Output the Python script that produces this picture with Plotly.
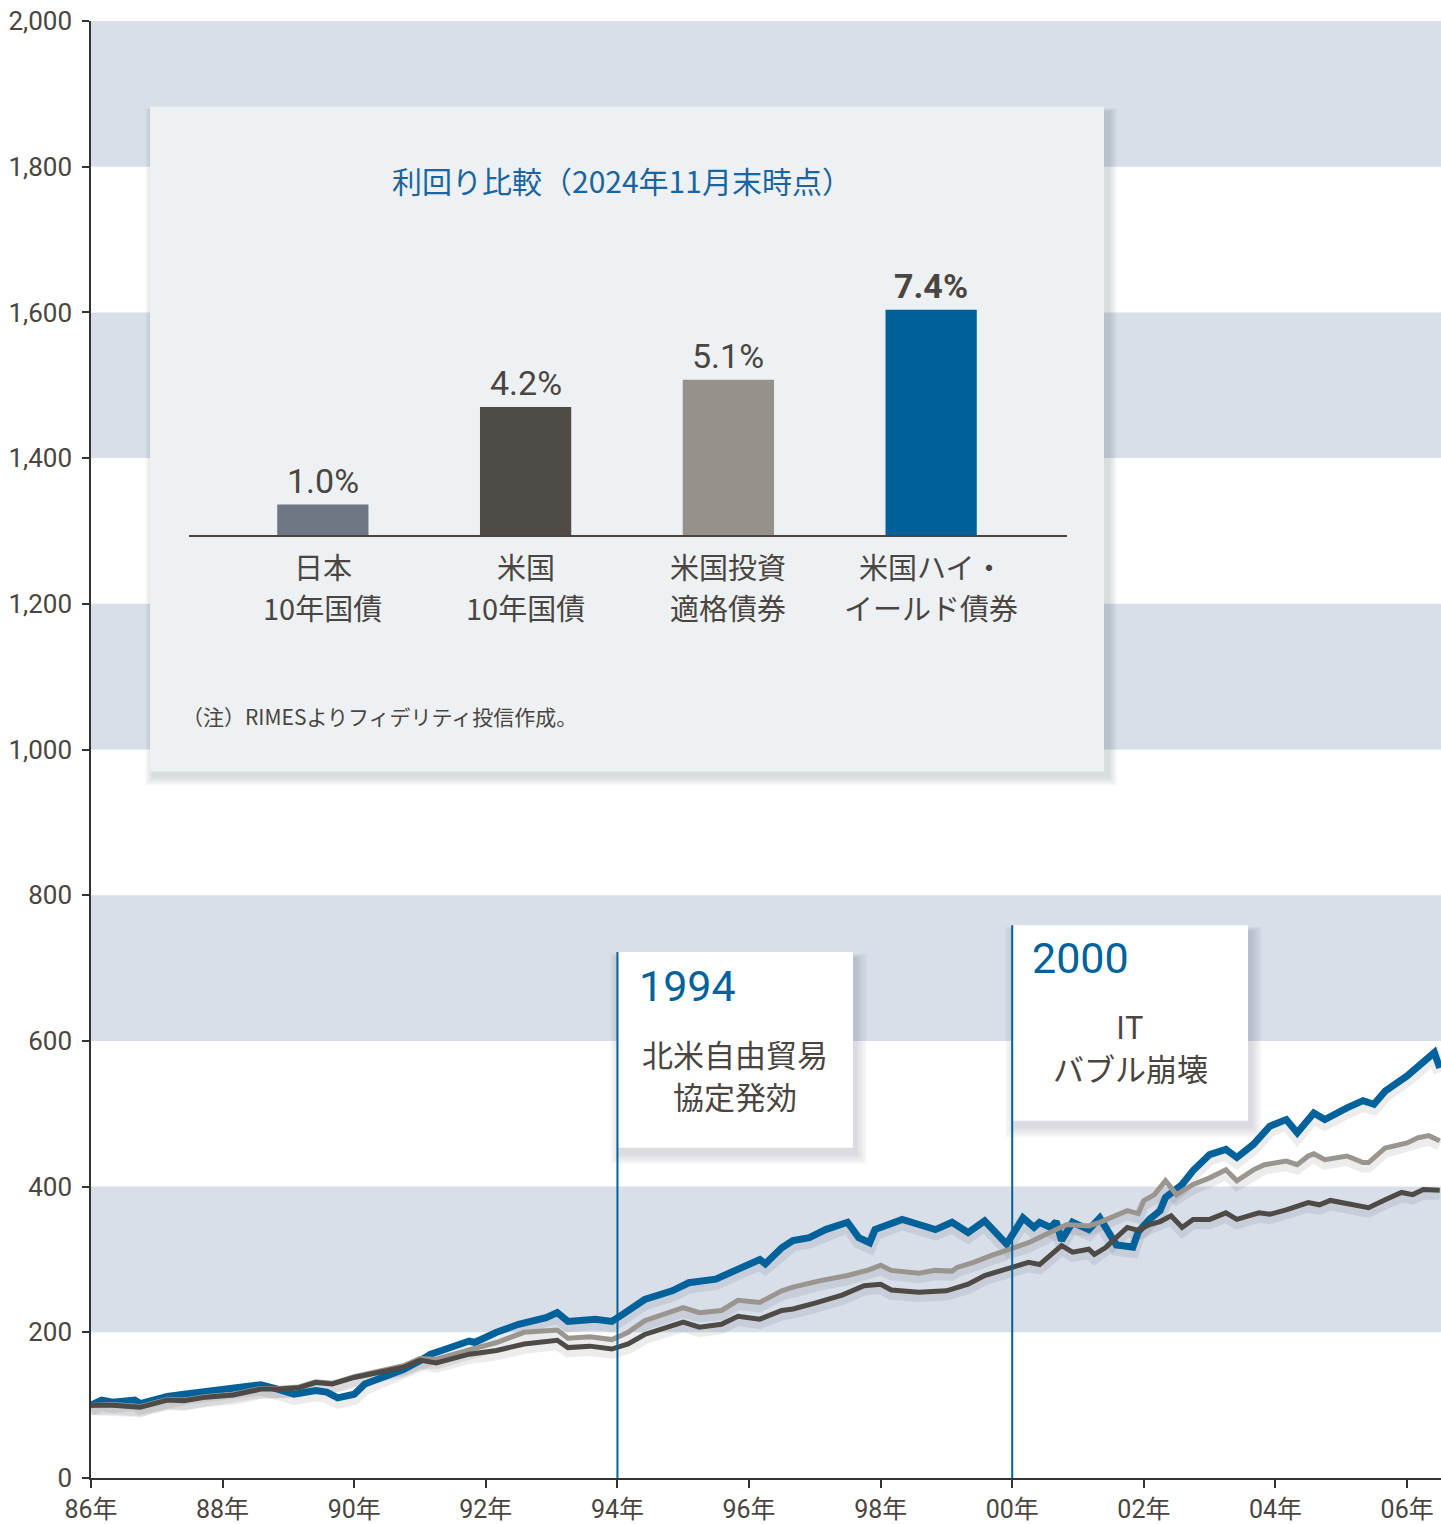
import plotly.graph_objects as go

# ---------------- data ----------------
hy_dates = ["1986-01","1986-03","1986-05","1986-09","1986-10","1987-03","1987-06","1987-09",
            "1988-01","1988-05","1988-08","1988-11","1989-02","1989-06","1989-08","1989-10",
            "1990-01","1990-03","1990-06","1990-10","1991-01","1991-03","1991-05","1991-10","1991-11",
            "1992-03","1992-07","1992-12","1993-02","1993-04","1993-09","1993-12",
            "1994-02","1994-06","1994-11","1995-02","1995-07","1995-11",
            "1996-03","1996-04","1996-07","1996-09","1996-12","1997-03","1997-07","1997-09","1997-11","1997-12",
            "1998-02","1998-05","1998-08","1998-11","1999-02","1999-05","1999-08","1999-12",
            "2000-03","2000-05","2000-06","2000-08","2000-09","2000-10","2000-12",
            "2001-03","2001-05","2001-07","2001-08","2001-11","2001-12",
            "2002-02","2002-04","2002-05","2002-08","2002-10","2003-01","2003-04","2003-06","2003-09","2003-12",
            "2004-03","2004-05","2004-08","2004-10","2005-02","2005-05","2005-07","2005-09",
            "2006-01","2006-04","2006-06","2006-07"]
hy_values = [100,107,104,107,102,112,115,118,
             121,124,128,122,115,120,118,110,
             115,129,138,149,161,170,175,188,186,
             200,211,220,227,215,218,215,
             225,245,257,268,273,286,
             300,294,316,326,330,341,351,330,323,341,
             346,355,348,341,351,337,353,321,
             357,344,351,344,352,326,351,
             341,357,330,320,317,338,
             355,367,385,403,422,444,451,440,458,483,
             492,474,501,492,508,518,513,531,
             552,570,584,563]

ust_dates = ["1986-01","1986-05","1986-10","1987-03","1987-06","1987-10","1988-03","1988-08","1988-11",
             "1989-03","1989-06","1989-09","1990-01","1990-06","1990-10","1991-01","1991-04","1991-10",
             "1992-03","1992-08","1993-02","1993-04","1993-08","1993-12","1994-03","1994-06",
             "1995-01","1995-04","1995-08","1995-11","1996-03","1996-07","1996-09","1997-01","1997-06","1997-10",
             "1998-01","1998-03","1998-08","1999-01","1999-05","1999-08","2000-01","2000-04","2000-06","2000-10","2000-12",
             "2001-03","2001-04","2001-06","2001-07","2001-10","2001-12","2002-02","2002-04","2002-06","2002-08","2002-10",
             "2003-01","2003-04","2003-06","2003-10","2003-12","2004-03","2004-07","2004-09","2004-11",
             "2005-03","2005-06","2005-09","2005-12","2006-02","2006-04","2006-07"]
ust_values = [100,100,97,107,106,111,114,122,122,
              124,131,129,138,145,152,162,158,170,
              175,184,189,179,181,177,184,197,
              214,207,211,222,218,230,232,240,251,264,
              266,258,255,257,266,278,289,296,293,319,310,
              314,307,316,323,344,340,348,352,360,344,355,
              355,364,355,364,362,368,378,375,381,
              375,371,382,392,389,396,395]

ig_dates = ["1986-01","1986-05","1986-10","1987-03","1987-06","1987-10","1988-03","1988-08","1988-11",
            "1989-03","1989-06","1989-09","1990-01","1990-06","1990-10","1991-01","1991-04","1991-10",
            "1992-03","1992-08","1993-02","1993-04","1993-08","1993-12","1994-03","1994-06",
            "1995-01","1995-04","1995-08","1995-11","1996-03","1996-07","1996-09","1997-02","1997-07","1997-11",
            "1998-01","1998-03","1998-08","1998-11","1999-02","1999-03","1999-06","1999-09",
            "2000-01","2000-04","2000-09","2000-11","2001-03","2001-05","2001-10","2001-12",
            "2002-01","2002-03","2002-05","2002-07","2002-10","2003-01","2003-04","2003-06","2003-09","2003-11",
            "2004-03","2004-05","2004-07","2004-08","2004-10","2005-02","2005-05","2005-06","2005-09",
            "2006-01","2006-03","2006-05","2006-07"]
ig_values = [100,101,98,108,107,112,115,123,123,
             125,132,130,139,147,154,164,163,176,
             186,200,203,192,194,190,200,216,
             234,227,230,244,241,257,262,271,278,286,
             292,285,281,285,284,289,296,305,
             316,323,341,348,346,351,367,363,
             381,389,408,389,403,412,423,408,423,430,
             435,430,442,445,437,442,433,433,453,
             460,467,470,463]

y_tick_values = list(range(0, 2001, 200))
band_starts = [200, 600, 1000, 1400, 1800]
x_tick_years = list(range(1986, 2007, 2))
x_tick_labels = [f"{y % 100:02d}年" for y in x_tick_years]

events = ["1994-01-01", "2000-01-01"]
event_years = ["1994", "2000"]
event_texts = ["北米自由貿易<br>協定発効", "IT<br>バブル崩壊"]

bar_categories = ["日本<br>10年国債", "米国<br>10年国債", "米国投資<br>適格債券", "米国ハイ・<br>イールド債券"]
bar_values = [1.0, 4.2, 5.1, 7.4]

inset_title = "利回り比較（2024年11月末時点）"
inset_note = "（注）RIMESよりフィデリティ投信作成。"

# ---------------- style ----------------
W, H = 1441, 1524
L, R, T, B = 91, 0, 21, 43
PW, PH = W - L - R, H - T - B
BLUE = "#00629b"
GRAY = "#9a958f"
DARK = "#4e4a45"
TEXT = "#4a4540"
BAND = "#d8dfe9"
PANEL = "#edf1f3"
BAR_COLORS = ["#6f7684", "#4f4b46", "#97918c", "#00609a"]
NUM_FONT = "Roboto, 'Noto Sans CJK JP', sans-serif"
JP_FONT = "'Noto Sans CJK JP', sans-serif"


def px(x):
    return (x - L) / PW


def py(y):
    return (H - B - y) / PH


def shadow_rects(x0, y0, x1, y1, dx=3, dy=6, steps=6, alpha=0.028):
    out = []
    for k in range(steps, 0, -1):
        g = k * 1.8
        out.append(dict(type="rect", xref="paper", yref="paper", layer="below",
                        x0=px(x0 + dx - g), x1=px(x1 + dx + g),
                        y0=py(y1 + dy + g), y1=py(y0 + dy - g * 0.4),
                        fillcolor=f"rgba(40,45,60,{alpha})", line=dict(width=0)))
    return out


fig = go.Figure()

series = [
    (hy_dates, hy_values, BLUE, 7),
    (ig_dates, ig_values, GRAY, 5),
    (ust_dates, ust_values, DARK, 5),
]
# soft drop shadows
for d, v, c, w in series:
    fig.add_trace(go.Scatter(x=d, y=[val - 6 for val in v], mode="lines",
                             line=dict(color="rgba(40,40,50,0.09)", width=w + 6),
                             hoverinfo="skip", showlegend=False))
for d, v, c, w in series:
    fig.add_trace(go.Scatter(x=d, y=v, mode="lines", line=dict(color=c, width=w),
                             showlegend=False))

# inset bars
fig.add_trace(go.Bar(x=bar_categories, y=bar_values, marker=dict(color=BAR_COLORS, line=dict(width=0)),
                     width=0.45, xaxis="x2", yaxis="y2", showlegend=False, hoverinfo="skip"))

shapes = []
for lo in band_starts:
    shapes.append(dict(type="rect", xref="paper", yref="y", layer="below", x0=0, x1=1,
                       y0=lo, y1=lo + 200, fillcolor=BAND, line=dict(width=0)))

# inset panel
shapes += shadow_rects(150, 107, 1104, 773, dx=4, dy=5, steps=5, alpha=0.035)
shapes.append(dict(type="rect", xref="paper", yref="paper", layer="below",
                   x0=px(150), x1=px(1104), y0=py(773), y1=py(107),
                   fillcolor=PANEL, line=dict(width=0)))

# event boxes
boxes = [(618, 954, 853, 1150), (1013, 927, 1248, 1123)]
for (x0, y0, x1, y1) in boxes:
    shapes += shadow_rects(x0, y0, x1, y1)
    shapes.append(dict(type="rect", xref="paper", yref="paper", layer="below",
                       x0=px(x0), x1=px(x1), y0=py(y1), y1=py(y0),
                       fillcolor="white", line=dict(width=0)))

for ev, (x0, y0, x1, y1) in zip(events, boxes):
    shapes.append(dict(type="line", xref="x", yref="paper", layer="above",
                       x0=ev, x1=ev, y0=0, y1=py(y0),
                       line=dict(color=BLUE, width=2)))

annotations = []
# event texts
year_pos = [(637, 988), (1030, 960)]
desc_pos = [(735, [1056, 1098]), (1130, [1028, 1070])]
for yr, txt, (ax, ay), (dx_, line_ys) in zip(event_years, event_texts, year_pos, desc_pos):
    annotations.append(dict(text=yr, xref="paper", yref="paper", x=px(ax), y=py(ay),
                            xanchor="left", yanchor="middle", showarrow=False,
                            font=dict(family=NUM_FONT, size=43, color=BLUE)))
    for part, ly in zip(txt.split("<br>"), line_ys):
        annotations.append(dict(text=part, xref="paper", yref="paper", x=px(dx_), y=py(ly),
                                xanchor="center", yanchor="middle", showarrow=False,
                                borderpad=0,
                                font=dict(family=JP_FONT, size=31, color=TEXT)))

# inset title & note
annotations.append(dict(text=inset_title, xref="paper", yref="paper", x=px(622), y=py(180),
                        xanchor="center", yanchor="middle", showarrow=False,
                        font=dict(family=JP_FONT, size=30, color="#1a65a0")))
annotations.append(dict(text=inset_note, xref="paper", yref="paper", x=px(180), y=py(717),
                        xanchor="left", yanchor="middle", showarrow=False,
                        font=dict(family=JP_FONT, size=21, color=TEXT)))

# bar value labels and category labels
cat_line_y = [567, 608]
for i, (c, v) in enumerate(zip(bar_categories, bar_values)):
    label = f"{v:.1f}%"
    if i == len(bar_values) - 1:
        label = f"<b>{label}</b>"
    annotations.append(dict(text=label, xref="x2", yref="y2", x=c, y=v, xanchor="center",
                            yanchor="bottom", yshift=2, showarrow=False,
                            font=dict(family=NUM_FONT, size=34, color=TEXT)))
    for part, ly in zip(c.split("<br>"), cat_line_y):
        annotations.append(dict(text=part, xref="x2", yref="paper", x=c, y=py(ly),
                                xanchor="center", yanchor="middle", showarrow=False,
                                borderpad=0,
                                font=dict(family=JP_FONT, size=29, color=TEXT)))

fig.update_layout(
    width=W, height=H,
    margin=dict(l=L, r=R, t=T, b=B),
    paper_bgcolor="white", plot_bgcolor="rgba(0,0,0,0)",
    showlegend=False,
    shapes=shapes,
    annotations=annotations,
    xaxis=dict(type="date", range=["1986-01-01", "2006-07-08"],
               tickvals=[f"{y}-01-01" for y in x_tick_years], ticktext=x_tick_labels,
               ticks="outside", ticklen=8, tickwidth=1.5, tickcolor="#333",
               showline=True, linecolor="#333", linewidth=1.5,
               showgrid=False, zeroline=False,
               tickfont=dict(family=NUM_FONT, size=25, color=TEXT)),
    yaxis=dict(range=[0, 2000], tickvals=y_tick_values, tickformat=",",
               ticks="outside", ticklen=7, tickwidth=1.5, tickcolor="#333",
               showline=True, linecolor="#333", linewidth=1.5,
               showgrid=False, zeroline=False, ticklabelstandoff=5,
               tickfont=dict(family=NUM_FONT, size=26, color=TEXT)),
    xaxis2=dict(domain=[px(189), px(1067)], anchor="y2", type="category",
                range=[-0.66, 3.67], showline=True, linecolor="#4a4540", linewidth=2,
                ticks="", showgrid=False, zeroline=False, showticklabels=False),
    yaxis2=dict(domain=[py(536), py(231)], anchor="x2", range=[0, 10], visible=False),
    font=dict(family=NUM_FONT, color=TEXT),
)

fig.write_html("out.html", config={"displayModeBar": False},
               post_script="document.body.style.margin='0';")
